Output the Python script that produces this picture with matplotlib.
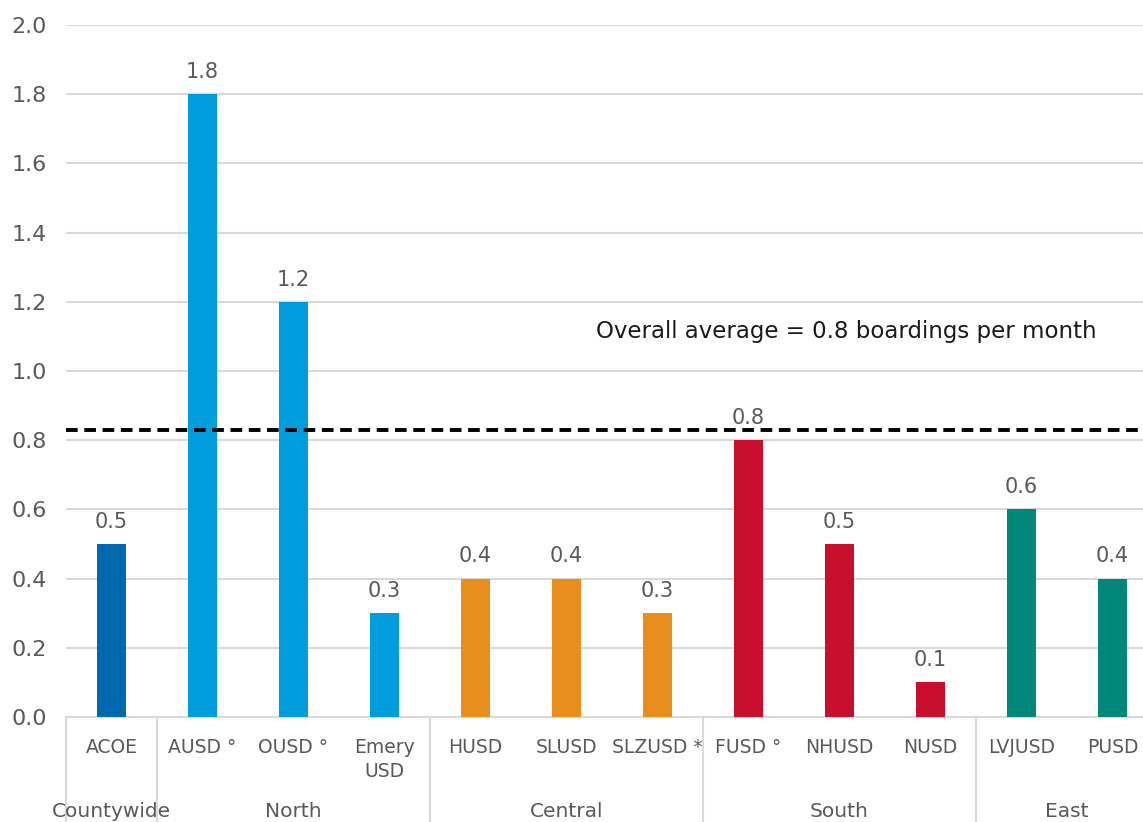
import matplotlib
matplotlib.use("Agg")
import matplotlib.pyplot as plt
import matplotlib.transforms as mtransforms

categories = ["ACOE", "AUSD °", "OUSD °", "Emery\nUSD", "HUSD", "SLUSD", "SLZUSD *",
              "FUSD °", "NHUSD", "NUSD", "LVJUSD", "PUSD"]
values = [0.5, 1.8, 1.2, 0.3, 0.4, 0.4, 0.3, 0.8, 0.5, 0.1, 0.6, 0.4]
value_labels = ["0.5", "1.8", "1.2", "0.3", "0.4", "0.4", "0.3", "0.8", "0.5", "0.1", "0.6", "0.4"]
groups = ["Countywide", "North", "Central", "South", "East"]
group_sizes = [1, 3, 3, 3, 2]
group_colors = ["#0068AC", "#009DDC", "#E88E1C", "#C8102E", "#00877A"]
average = 0.83
average_text = "Overall average = 0.8 boardings per month"
yticks = [0.0, 0.2, 0.4, 0.6, 0.8, 1.0, 1.2, 1.4, 1.6, 1.8, 2.0]

plt.rcParams['font.family'] = ['DejaVu Sans']

W, H = 1143, 822
fig = plt.figure(figsize=(W / 100, H / 100), dpi=100)
left, right, top, bottom = 66, 1158, 25, 717
ax = fig.add_axes([left / W, (H - bottom) / H, (right - left) / W, (bottom - top) / H])

colors = []
for c, n in zip(group_colors, group_sizes):
    colors += [c] * n

x = list(range(len(categories)))
ax.bar(x, values, width=0.32, color=colors, zorder=3)
for xi, v, lab in zip(x, values, value_labels):
    ax.text(xi, v + 0.035, lab, ha="center", va="bottom", fontsize=15, color="#595959")

ax.set_xlim(-0.5, len(categories) - 0.5)
ax.set_ylim(0, 2.0)
ax.set_yticks(yticks)
ax.set_yticklabels([f"{t:.1f}" for t in yticks], fontsize=16, color="#595959")
ax.tick_params(axis="y", length=0, pad=14)
ax.grid(axis="y", color="#d9d9d9", linewidth=1.5, zorder=0)
for s in ["top", "right", "left"]:
    ax.spines[s].set_visible(False)
ax.spines["bottom"].set_color("#d9d9d9")
ax.spines["bottom"].set_linewidth(1.5)
ax.set_xticks(x)
ax.set_xticklabels(categories, fontsize=13.5, color="#595959", linespacing=1.35, va="top")
ax.tick_params(axis="x", length=0, pad=15)

ax.axhline(average, color="black", linestyle=(0, (3, 1.7)), linewidth=2.8, zorder=4)
ax.text(8.07, 1.115, average_text, ha="center", va="center", fontsize=16.5, color="#1a1a1a")

trans = mtransforms.blended_transform_factory(ax.transData, ax.transAxes)
pos = -0.5
edges = [pos]
for n in group_sizes:
    pos += n
    edges.append(pos)
for e in edges:
    ax.plot([e, e], [0, -0.2], transform=trans, color="#d9d9d9", linewidth=1.5, clip_on=False)
for g, a, b in zip(groups, edges[:-1], edges[1:]):
    ax.text((a + b) / 2, -0.136, g, transform=trans, ha="center", va="center",
            fontsize=14.5, color="#595959")

fig.savefig("out.png", dpi=100)
